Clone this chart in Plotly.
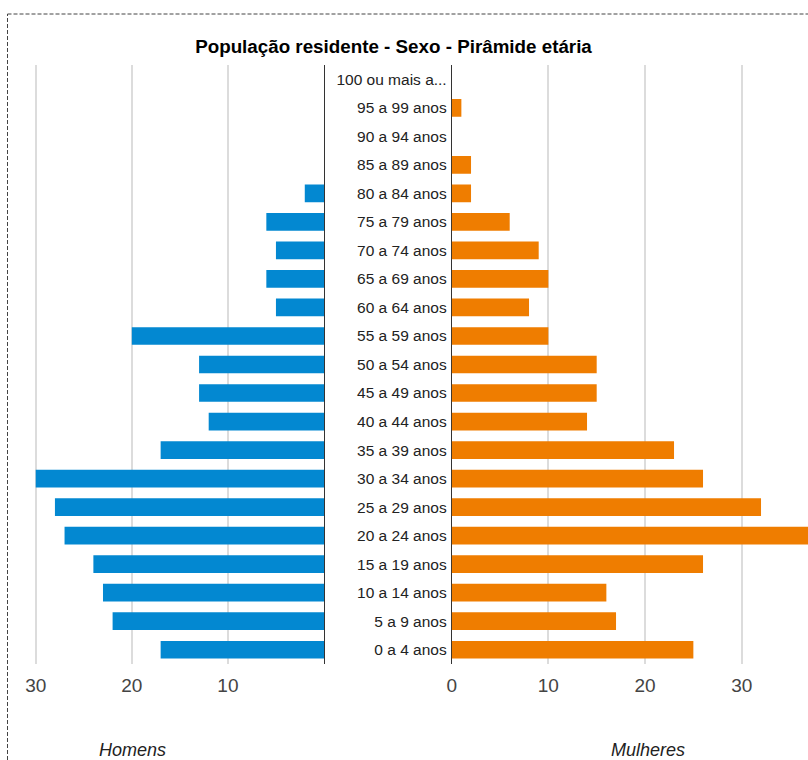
import plotly.graph_objects as go

W, H = 808, 760

age_groups = ["0 a 4 anos", "5 a 9 anos", "10 a 14 anos", "15 a 19 anos", "20 a 24 anos",
              "25 a 29 anos", "30 a 34 anos", "35 a 39 anos", "40 a 44 anos", "45 a 49 anos",
              "50 a 54 anos", "55 a 59 anos", "60 a 64 anos", "65 a 69 anos", "70 a 74 anos",
              "75 a 79 anos", "80 a 84 anos", "85 a 89 anos", "90 a 94 anos", "95 a 99 anos",
              "100 ou mais a..."]
homens = [17, 22, 23, 24, 27, 28, 30, 17, 12, 13, 13, 20, 5, 6, 5, 6, 2, 0, 0, 0, 0]
mulheres = [25, 17, 16, 26, 37, 32, 26, 23, 14, 15, 15, 10, 8, 10, 9, 6, 2, 2, 0, 1, 0]

left_ticks = [10, 20, 30]
right_ticks = [0, 10, 20, 30]

title_text = "População residente - Sexo - Pirâmide etária"

FONT = "Liberation Sans, Arial, sans-serif"

def px_x(p):
    return p / W

def px_y(p):
    return 1 - p / H

fig = go.Figure()
fig.add_trace(go.Bar(y=age_groups, x=homens, orientation="h", xaxis="x", yaxis="y",
                     marker=dict(color="#0388D1", line=dict(width=0)), width=0.62,
                     name="Homens", showlegend=False))
fig.add_trace(go.Bar(y=age_groups, x=mulheres, orientation="h", xaxis="x2", yaxis="y2",
                     marker=dict(color="#EF7D00", line=dict(width=0)), width=0.62,
                     name="Mulheres", showlegend=False))

ydom = [px_y(664), px_y(65)]
tickfont = dict(family=FONT, size=19, color="#444")

fig.update_layout(
    width=W, height=H,
    margin=dict(l=0, r=0, t=0, b=0, autoexpand=False),
    paper_bgcolor="white", plot_bgcolor="white",
    font=dict(family=FONT, color="#222"),
    title=dict(text="<b>" + title_text + "</b>", x=px_x(393.5), xanchor="center",
               y=px_y(46), yanchor="middle", font=dict(size=18.8, color="#000")),
    xaxis=dict(domain=[px_x(33.8), px_x(324)], range=[30.2, 0], tickvals=left_ticks,
               ticktext=[str(v) for v in left_ticks], showgrid=True, gridcolor="#dcdcdc",
               gridwidth=2, zeroline=True, zerolinecolor="#333", zerolinewidth=1,
               tickfont=tickfont, ticks="", ticklabelstandoff=8, anchor="y"),
    yaxis=dict(domain=ydom, categoryorder="array", categoryarray=age_groups,
               range=[-0.5, 20.5], showticklabels=False, showgrid=False, zeroline=False,
               anchor="x"),
    xaxis2=dict(domain=[px_x(451.7), 1.0], range=[0, 36.86], tickvals=right_ticks,
                ticktext=[str(v) for v in right_ticks], showgrid=True, gridcolor="#dcdcdc",
                gridwidth=2, zeroline=True, zerolinecolor="#333", zerolinewidth=1,
                tickfont=tickfont, ticks="", ticklabelstandoff=8, anchor="y2"),
    yaxis2=dict(domain=ydom, categoryorder="array", categoryarray=age_groups,
                range=[-0.5, 20.5], showgrid=False, zeroline=False, anchor="x2",
                tickfont=dict(family=FONT, size=15.5, color="#222"),
                ticks="", ticklabelstandoff=4),
    bargap=0.38,
)

fig.add_annotation(text="<i>Homens</i>", x=px_x(132), y=px_y(750), xref="paper", yref="paper",
                   showarrow=False, font=dict(size=18, color="#222"), xanchor="center", yanchor="middle")
fig.add_annotation(text="<i>Mulheres</i>", x=px_x(648), y=px_y(750), xref="paper", yref="paper",
                   showarrow=False, font=dict(size=18, color="#222"), xanchor="center", yanchor="middle")

# dashed frame of the original screenshot
fig.add_shape(type="line", xref="paper", yref="paper", x0=px_x(7.5), x1=1.0, y0=px_y(14), y1=px_y(14),
              line=dict(color="#444", width=1, dash="4px,2px"))
fig.add_shape(type="line", xref="paper", yref="paper", x0=px_x(7.5), x1=px_x(7.5), y0=0, y1=px_y(14),
              line=dict(color="#444", width=1, dash="4px,2px"))

fig.write_html("out.html")
